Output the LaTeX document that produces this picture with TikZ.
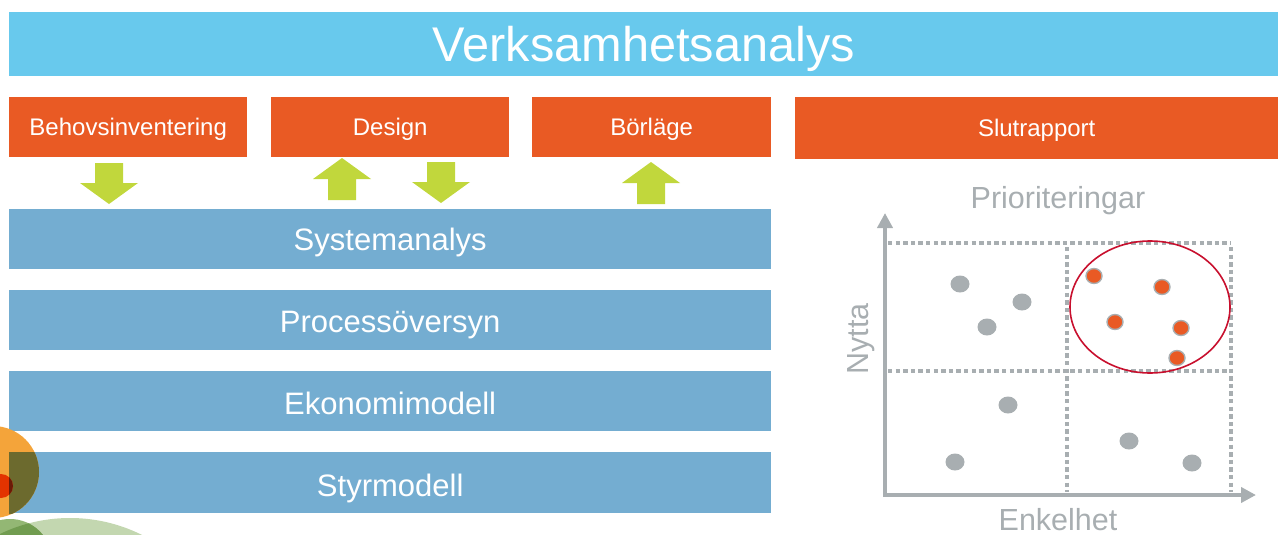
\documentclass[tikz,border=0pt]{standalone}
\usepackage{fontspec}
\setmainfont{Liberation Sans}
\usetikzlibrary{arrows.meta}
\definecolor{topblue}{HTML}{68C9ED}
\definecolor{orng}{HTML}{E95A24}
\definecolor{barblue}{HTML}{74ADD1}
\definecolor{agreen}{HTML}{C1D73C}
\definecolor{cgray}{HTML}{A8AEB1}
\definecolor{dred}{HTML}{C8102E}
\definecolor{circor}{HTML}{F4A43A}
\definecolor{olive}{HTML}{6C6A2E}
\definecolor{cred}{HTML}{E33300}
\definecolor{dkred}{HTML}{6A1A08}
\definecolor{lgreen}{HTML}{C3D7B0}
\definecolor{mgreen}{HTML}{93B774}
\definecolor{dgreen}{HTML}{719C50}
\begin{document}
\begin{tikzpicture}[x=1pt,y=-1pt,
  box/.style={fill=#1, draw=none, text=white, inner sep=0pt, anchor=north west},
  big/.style={font=\fontsize{48.7pt}{50pt}\selectfont, text height=34.9pt, text depth=0pt},
  mid/.style={font=\fontsize{31pt}{33pt}\selectfont, text height=22.2pt, text depth=0pt},
  small/.style={font=\fontsize{24pt}{26pt}\selectfont, text height=17.2pt, text depth=0pt},
  lbl/.style={text=cgray, inner sep=0pt, font=\fontsize{30.5pt}{32pt}\selectfont, text height=21.8pt, text depth=0pt},
  dnarrow/.pic={\fill[agreen] (-14,0) -- (14,0) -- (14,20) -- (29,20) -- (0,41) -- (-29,20) -- (-14,20) -- cycle;},
  uparrow/.pic={\fill[agreen] (0,0) -- (29,21) -- (14,21) -- (14,42) -- (-14,42) -- (-14,21) -- (-29,21) -- cycle;},
  dotline/.style={cgray, line width=4.6pt, dash pattern=on 4.4pt off 3.2pt},
  gdot/.style={fill=cgray, draw=none},
  odot/.style={fill=orng, draw=cgray, line width=1.4pt},
]
\useasboundingbox (0,0) rectangle (1278,535);

% decorative circles at bottom left
\fill[lgreen] (70,679) circle (161pt);
\fill[mgreen] (10,561) circle (42pt);
\begin{scope}
  \clip (70,679) circle (161pt);
  \fill[dgreen] (10,561) circle (42pt);
\end{scope}

% title bar
\node[box=topblue, big, minimum width=1269pt, minimum height=64pt] (top) at (9,12) {};
\node[text=white, big, inner sep=0pt] (toptext) at (top.center) {Verksamhetsanalys};

% orange boxes
\node[box=orng, small, minimum width=238pt, minimum height=60pt] (behov) at (9,97) {Behovsinventering};
\node[box=orng, small, minimum width=238pt, minimum height=60pt] (design) at (271,97) {Design};
\node[box=orng, small, minimum width=239pt, minimum height=60pt] (borlage) at (532,97) {Börläge};
\node[box=orng, small, minimum width=483pt, minimum height=62pt] (slut) at (795,97) {Slutrapport};

% blue bars
\node[box=barblue, mid, minimum width=762pt, minimum height=60pt] (sys) at (9,209) {Systemanalys};
\node[box=barblue, mid, text height=24.2pt, minimum width=762pt, minimum height=60pt] (proc) at (9,290) {Processöversyn};
\node[box=barblue, mid, text height=27.2pt, minimum width=762pt, minimum height=60pt] (eko) at (9,371) {Ekonomimodell};
\node[box=barblue, mid, minimum width=762pt, minimum height=61pt] (styr) at (9,452) {};

% green arrows
\pic at (109,163) {dnarrow};
\pic at (342,158) {uparrow};
\pic at (441,162) {dnarrow};
\pic at (651,162) {uparrow};

% orange / red circles bottom left
\fill[circor] (-7,472) circle (46pt);
\begin{scope}
  \clip (styr.north west) rectangle (styr.south east);
  \fill[olive] (-7,472) circle (46pt);
\end{scope}
\fill[cred] (1,486) circle (12pt);
\begin{scope}
  \clip (styr.north west) rectangle (styr.south east);
  \fill[dkred] (1,486) circle (12pt);
\end{scope}
\node[text=white, mid, inner sep=0pt] (styrtext) at ([yshift=-2.5pt]styr.center) {Styrmodell};

% chart
\node[lbl] (prio) at (1058,197.5) {Prioriteringar};
\node[lbl] (enk) at (1058,520) {Enkelhet};
\node[lbl, rotate=90] (nytta) at (858,339) {Nytta};

\coordinate (origin) at (885,495);
\coordinate (ytip) at (885,213);
\coordinate (xtip) at (1256,495);
\draw[dotline] (888,243) -- (1231,243);
\draw[dotline] (888,371) -- (1231,371);
\draw[dotline] (1067,247) -- (1067,492);
\draw[dotline] (1231,247) -- (1231,492);
\draw[cgray, line width=4pt, -{Triangle[length=15pt,width=15pt]}] ([yshift=-2pt]origin) -- (ytip);
\draw[cgray, line width=4pt, -{Triangle[length=15pt,width=15pt]}] ([xshift=-2pt]origin) -- (xtip);

\foreach \p in {(960,284),(1022,302),(987,327),(1008,405),(955,462),(1129,441),(1192,463)}
  \fill[gdot] \p ellipse [x radius=9.5pt, y radius=8.5pt];
\foreach \p in {(1094,276),(1162,287),(1115,322),(1181,328),(1177,358)}
  \filldraw[odot] \p ellipse [x radius=8pt, y radius=7.5pt];
\draw[dred, line width=1.6pt] (1150,307) ellipse [x radius=80pt, y radius=66pt];
\end{tikzpicture}
\end{document}
